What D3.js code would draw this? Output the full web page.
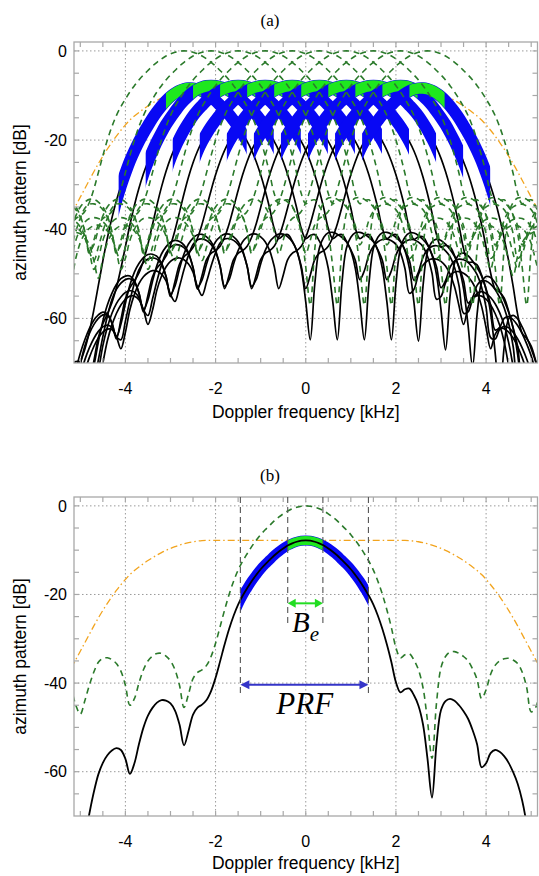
<!DOCTYPE html>
<html><head><meta charset="utf-8">
<script src="https://cdn.jsdelivr.net/npm/d3@7"></script>
<style>
  body { margin: 0; background: #fff; }
  svg { display: block; }
</style>
</head><body>
<svg id="fig" width="539" height="876"></svg>
<script>
// Doppler sampling step of the pattern tables [kHz]
const step = 0.1;

// Receive beam pattern [dB] versus Doppler offset from the beam centre,
// offsets -8.0 ... +8.0 kHz in 0.1 kHz steps
const rxOffsetStart = -8.0;
const rxPattern = [
  -41.5, -40.8, -40.7, -41.0, -41.8, -43.5, -47.0, -51.0, -46.5, -43.0,   // -8.0 .. -7.1
  -41.0, -39.8, -39.2, -39.1, -39.5, -40.4, -42.0, -45.0, -49.0, -46.5,   // -7.0 .. -6.1
  -42.5, -40.0, -38.4, -37.6, -37.4, -37.6, -38.3, -39.5, -41.5, -45.0,   // -6.0 .. -5.1
  -47.0, -44.0, -40.5, -37.5, -35.3, -34.4, -34.3, -34.7, -35.6, -37.3,   // -5.0 .. -4.1
  -40.5, -45.0, -43.5, -40.0, -37.0, -35.0, -33.9, -33.3, -33.3, -33.9,   // -4.0 .. -3.1
  -35.0, -37.0, -40.5, -45.5, -42.5, -39.0, -37.6, -37.0, -36.0, -34.0,   // -3.0 .. -2.1
  -31.0, -27.3, -23.5, -20.0, -17.0, -14.5, -12.5, -10.8, -9.2, -7.8,     // -2.0 .. -1.1
  -6.5, -5.4, -4.4, -3.4, -2.55, -1.8, -1.15, -0.65, -0.3, -0.07,         // -1.0 .. -0.1
  0.0,                                                                     //  0.0
  -0.07, -0.3, -0.65, -1.15, -1.8, -2.55, -3.4, -4.4, -5.4, -6.5,         //  0.1 ..  1.0
  -7.8, -9.2, -10.8, -12.5, -14.5, -17.0, -20.0, -23.5, -27.5, -32.0,     //  1.1 ..  2.0
  -34.3, -33.6, -33.4, -34.8, -37.0, -41.0, -48.5, -57.0, -44.5, -36.5,   //  2.1 ..  3.0
  -34.0, -33.0, -32.9, -33.3, -34.0, -35.0, -36.8, -39.2, -43.5, -41.5,   //  3.1 ..  4.0
  -38.0, -36.0, -35.0, -34.5, -34.4, -34.8, -35.6, -37.5, -41.0, -46.5,   //  4.1 ..  5.0
  -45.5, -42.0, -39.8, -38.5, -37.8, -37.5, -37.6, -38.2, -39.5, -41.8,   //  5.1 ..  6.0
  -45.5, -49.0, -44.5, -41.8, -40.3, -39.5, -39.1, -39.2, -39.8, -41.0,   //  6.1 ..  7.0
  -43.2, -47.0, -50.5, -46.0, -43.0, -41.6, -40.9, -40.7, -40.9, -41.6    //  7.1 ..  8.0
];

// Transmit envelope [dB] versus Doppler frequency, -5.2 ... +5.2 kHz
const txFreqStart = -5.2;
const txEnvelope = [
  -36.6, -34.7, -32.8, -30.9, -29.0, -27.1, -25.3, -23.6, -22.0, -20.5,   // -5.2 .. -4.3
  -19.1, -17.8, -16.6, -15.5, -14.6, -13.8, -13.05, -12.35, -11.7, -11.1, // -4.2 .. -3.3
  -10.55, -10.05, -9.6, -9.2, -8.85, -8.55, -8.3, -8.1, -7.95, -7.85,     // -3.2 .. -2.3
  -7.8, -7.8, -7.8, -7.8, -7.8, -7.8, -7.8, -7.8, -7.8, -7.8, -7.8,       // -2.2 .. -1.2
  -7.8, -7.8, -7.8, -7.8, -7.8, -7.8, -7.8, -7.8, -7.8, -7.8, -7.8,       // -1.1 ..  -0.1
  -7.8,                                                                    //  0.0
  -7.8, -7.8, -7.8, -7.8, -7.8, -7.8, -7.8, -7.8, -7.8, -7.8, -7.8,       //  0.1 ..  1.1
  -7.8, -7.8, -7.8, -7.8, -7.8, -7.8, -7.8, -7.8, -7.8, -7.8, -7.8,       //  1.2 ..  2.2
  -7.85, -7.95, -8.1, -8.3, -8.55, -8.85, -9.2, -9.6, -10.05, -10.55,     //  2.3 ..  3.2
  -11.1, -11.7, -12.35, -13.05, -13.8, -14.6, -15.5, -16.6, -17.8, -19.1, //  3.3 ..  4.2
  -20.5, -22.0, -23.6, -25.3, -27.1, -29.0, -30.9, -32.8, -34.7, -36.6    //  4.3 ..  5.2
];

// Beam centres [kHz]: multi-beam case (a) and single beam (b)
const beamCentresA = [-2.7, -2.1, -1.5, -0.9, -0.3, 0.3, 0.9, 1.5, 2.1, 2.7];
const beamCentresB = [0.0];

// Processed bands relative to the beam centre [kHz]
const prfBand = [-1.45, 1.39];
const beBand = [-0.40, 0.38];

// Axes
const xDomain = [-5.14, 5.14];
const yDomain = [-70, 2];
const xTickValues = [-4, -2, 0, 2, 4];
const yTickValues = [0, -20, -40, -60];
const xMinorStep = 0.5;
const yMinorStep = 5;

// Annotation levels in panel (b) [dB]
const prfArrowLevel = -40.4;
const prfLineBottom = -43;
const beArrowLevel = -22;
const beLineBottom = -27;

const svg = d3.select("#fig");
const x = d3.scaleLinear().domain(xDomain).range([74, 537.5]);

const panels = [
  { key: "a", top: 42, bottom: 363, title: "(a)", titleY: 26, beams: beamCentresA, labelY: 418 },
  { key: "b", top: 497, bottom: 816, title: "(b)", titleY: 481, beams: beamCentresB, labelY: 869 }
];

const sans = "'Liberation Sans', Arial, Helvetica, sans-serif";
const serif = "'Liberation Serif', 'Times New Roman', serif";

const rxIndex = f => Math.round((f - rxOffsetStart) / step);

function rxPoints(c) {
  return rxPattern.map((v, i) => [+(rxOffsetStart + i * step + c).toFixed(2), v]);
}
// Two-way pattern = receive pattern (shifted to the beam centre) + transmit envelope, in dB
function twoWayPoints(c) {
  const pts = [];
  txEnvelope.forEach((t, j) => {
    const f = txFreqStart + j * step;
    const i = rxIndex(f - c);
    if (i >= 0 && i < rxPattern.length) pts.push([+f.toFixed(2), rxPattern[i] + t]);
  });
  return pts;
}

panels.forEach(p => {
  const y = d3.scaleLinear().domain(yDomain).range([p.bottom, p.top]);
  const L = x.range()[0], R = x.range()[1];
  const g = svg.append("g");
  const line = d3.line().x(d => x(d[0])).y(d => y(d[1])).curve(d3.curveCatmullRom.alpha(0.5));

  const clipId = "plot-" + p.key;
  const defs = g.append("defs");
  defs.append("clipPath").attr("id", clipId)
    .append("rect").attr("x", L).attr("y", p.top).attr("width", R - L).attr("height", p.bottom - p.top);

  // title
  g.append("text").attr("x", 270).attr("y", p.titleY).attr("text-anchor", "middle")
    .attr("font-family", serif).attr("font-size", 17).text(p.title);

  // dotted grid
  const grid = g.append("g").attr("stroke", "#9a9a9a").attr("stroke-width", 1).attr("stroke-dasharray", "1.5,2.5");
  xTickValues.forEach(v => grid.append("line").attr("x1", x(v)).attr("x2", x(v)).attr("y1", p.top).attr("y2", p.bottom));
  yTickValues.forEach(v => grid.append("line").attr("x1", L).attr("x2", R).attr("y1", y(v)).attr("y2", y(v)));

  const plot = g.append("g").attr("clip-path", `url(#${clipId})`);

  // transmit envelope (dash-dot)
  const txPts = txEnvelope.map((t, j) => [+(txFreqStart + j * step).toFixed(2), t]);
  plot.append("path").attr("d", line(txPts)).attr("fill", "none")
    .attr("stroke", "#f2a41e").attr("stroke-width", 1.3).attr("stroke-dasharray", "7,3,1.5,3");

  const drawRx = () => p.beams.forEach(c => {
    plot.append("path").attr("d", line(rxPoints(c))).attr("fill", "none")
      .attr("stroke", "#2b7a2b").attr("stroke-width", 1.6).attr("stroke-dasharray", "6,4.5");
  });
  const drawTwoWay = w => p.beams.forEach(c => {
    plot.append("path").attr("d", line(twoWayPoints(c))).attr("fill", "none")
      .attr("stroke", "#000").attr("stroke-width", w);
  });
  const drawBands = (wBlue, wGreen) => p.beams.forEach((c, k) => {
    [[prfBand, "#0808f4", wBlue, "prf"], [beBand, "#1ee81e", wGreen, "be"]].forEach(([band, col, w, nm]) => {
      const id = `${nm}-${p.key}-${k}`;
      defs.append("clipPath").attr("id", id).append("rect")
        .attr("x", x(c + band[0])).attr("width", x(c + band[1]) - x(c + band[0]))
        .attr("y", p.top - 20).attr("height", p.bottom - p.top + 40);
      plot.append("g").attr("clip-path", `url(#${id})`)
        .append("path").attr("d", line(twoWayPoints(c))).attr("fill", "none")
        .attr("stroke", col).attr("stroke-width", w).attr("stroke-linejoin", "round");
    });
  });

  if (p.key === "a") {
    drawTwoWay(1.7);
    drawBands(12, 11);
    drawRx();
  } else {
    drawRx();
    drawBands(10, 9);
    drawTwoWay(1.8);
  }

  // frame and inward ticks
  g.append("rect").attr("x", L).attr("y", p.top).attr("width", R - L).attr("height", p.bottom - p.top)
    .attr("fill", "none").attr("stroke", "#a8a8a8").attr("stroke-width", 1.3);
  const ticks = g.append("g").attr("stroke", "#a8a8a8").attr("stroke-width", 1.2);
  d3.range(-5, 5.001, xMinorStep).forEach(v => {
    ticks.append("line").attr("x1", x(v)).attr("x2", x(v)).attr("y1", p.top).attr("y2", p.top + 5);
    ticks.append("line").attr("x1", x(v)).attr("x2", x(v)).attr("y1", p.bottom).attr("y2", p.bottom - 5);
  });
  d3.range(-65, 0.001, yMinorStep).forEach(v => {
    ticks.append("line").attr("x1", L).attr("x2", L + 5).attr("y1", y(v)).attr("y2", y(v));
    ticks.append("line").attr("x1", R).attr("x2", R - 5).attr("y1", y(v)).attr("y2", y(v));
  });

  // tick labels
  xTickValues.forEach(v => g.append("text").attr("x", x(v)).attr("y", p.bottom + 31)
    .attr("text-anchor", "middle").attr("font-family", sans).attr("font-size", 16).text(v));
  yTickValues.forEach(v => g.append("text").attr("x", 67).attr("y", y(v)).attr("dy", "0.36em")
    .attr("text-anchor", "end").attr("font-family", sans).attr("font-size", 16).text(v));

  // axis titles
  g.append("text").attr("x", (L + R) / 2).attr("y", p.labelY).attr("text-anchor", "middle")
    .attr("font-family", sans).attr("font-size", 17.5).text("Doppler frequency [kHz]");
  const cy = (p.top + p.bottom) / 2;
  g.append("text").attr("transform", `translate(26,${cy}) rotate(-90)`).attr("text-anchor", "middle")
    .attr("font-family", sans).attr("font-size", 17.5).text("azimuth pattern [dB]");

  if (p.key === "b") {
    const c = beamCentresB[0];
    const vl = g.append("g").attr("stroke", "#555").attr("stroke-width", 1.1).attr("stroke-dasharray", "6,4");
    prfBand.forEach(o => vl.append("line").attr("x1", x(c + o)).attr("x2", x(c + o))
      .attr("y1", p.top).attr("y2", y(prfLineBottom)));
    beBand.forEach(o => vl.append("line").attr("x1", x(c + o)).attr("x2", x(c + o))
      .attr("y1", p.top).attr("y2", y(beLineBottom)));

    // double-headed arrows
    const arrow = (x1, x2, yy, col, head, half) => {
      const a = g.append("g");
      a.append("line").attr("x1", x1 + head - 1).attr("x2", x2 - head + 1).attr("y1", yy).attr("y2", yy)
        .attr("stroke", col).attr("stroke-width", 2);
      a.append("path").attr("fill", col)
        .attr("d", `M${x1},${yy} L${x1 + head},${yy - half} L${x1 + head},${yy + half} Z`);
      a.append("path").attr("fill", col)
        .attr("d", `M${x2},${yy} L${x2 - head},${yy - half} L${x2 - head},${yy + half} Z`);
    };
    arrow(x(c + prfBand[0]), x(c + prfBand[1]), y(prfArrowLevel), "#3434c8", 9, 4.5);
    arrow(x(c + beBand[0]), x(c + beBand[1]), y(beArrowLevel), "#22dd22", 8, 4.5);

    const be = g.append("text").attr("x", 292).attr("y", 632)
      .attr("font-family", serif).attr("font-style", "italic").attr("font-size", 29);
    be.append("tspan").text("B");
    be.append("tspan").attr("dy", 9).attr("font-size", 21).text("e");

    g.append("text").attr("x", x(c) - 1).attr("y", 714).attr("text-anchor", "middle")
      .attr("font-family", serif).attr("font-style", "italic").attr("font-size", 31).text("PRF");
  }
});
</script>
</body></html>
